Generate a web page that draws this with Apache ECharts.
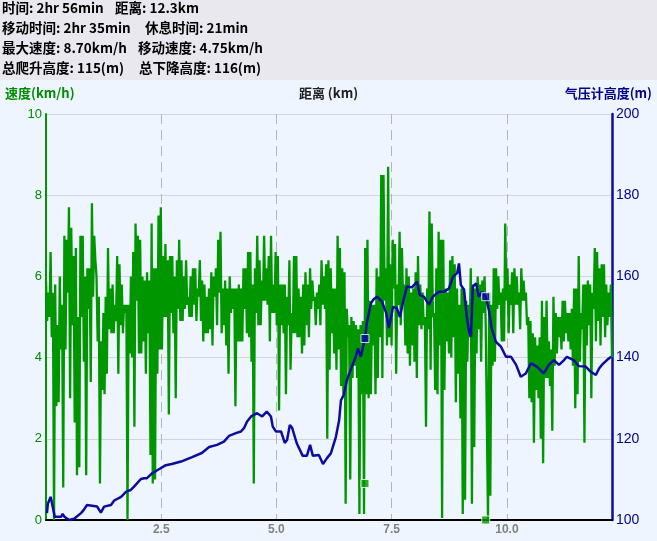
<!DOCTYPE html>
<html>
<head>
<meta charset="utf-8">
<script src="https://cdn.jsdelivr.net/npm/echarts@6/dist/echarts.min.js"></script>
<style>
html,body{margin:0;padding:0;background:#eef5fe;}
#chart{width:657px;height:541px;}
</style>
</head>
<body>
<div id="chart"></div>
<script>
// ---- header summary ----
const headerLeft = ['时间: 2hr 56min', '移动时间: 2hr 35min', '最大速度: 8.70km/h', '总爬升高度: 115(m)'];
const headerRight = ['距离: 12.3km', '休息时间: 21min', '移动速度: 4.75km/h', '总下降高度: 116(m)'];
const leftTitle = '速度(km/h)';
const centerTitle = '距离 (km)';
const rightTitle = '气压计高度(m)';

// ---- distance axis ----
const X_MAX = 12.28;

// ---- speed (km/h), evenly spaced along the track, read in six chunks ----
const speedA = [5.9,4.9, 5.6,5.0, 6.6,4.5, 5.6,0.0, 5.8,2.8, 4.8,2.9, 6.0,4.2, 5.3,0.8, 7.0,4.2, 6.9,5.6,
  7.7,3.0, 7.2,4.8, 6.5,2.4, 6.7,1.1, 5.0,1.3, 7.0,5.0, 7.0,3.9, 6.0,1.1, 6.2,5.2, 6.2,3.4,
  7.8,5.5, 7.0,6.4, 6.0,4.4, 5.5,0.9, 4.4,3.2, 5.1,3.1, 5.5,3.6, 6.7,4.7, 5.7,4.6, 5.8,4.6,
  5.3,4.9, 6.5,3.6, 6.3,4.8, 5.8,4.6, 5.3,5.1, 5.3,0.0, 5.3,4.1, 6.0,4.0, 6.6,2.3, 7.3,5.4,
  7.0,4.1, 6.9,4.1, 6.0,4.4];
const speedB = [5.9,3.6, 6.1,4.6, 5.9,1.6, 7.3,0.9, 6.2,1.0, 6.2,3.6, 7.5,4.2, 7.7,4.2, 6.5,5.0, 6.8,5.0,
  6.4,2.6, 6.5,5.1, 6.5,4.6, 6.0,3.0, 6.4,5.2, 6.9,4.9, 6.4,4.9, 6.0,5.2, 6.4,5.3, 5.5,5.0,
  6.0,5.0, 6.2,5.3, 6.2,4.9, 5.7,5.5, 6.4,4.9, 5.9,4.4, 5.8,4.6, 5.5,4.6, 5.7,4.7, 6.1,4.3,
  6.0,5.5, 6.2,4.8, 6.9,5.6, 7.1,4.6, 5.7,4.8, 5.9,4.3, 5.7,3.6, 6.0,5.1, 5.7,5.2, 5.7,2.8,
  5.7,4.4, 5.8,4.4, 5.7,4.4, 6.2,5.2];
const speedC = [6.2,4.6, 6.6,4.5, 6.6,3.9, 5.8,0.9, 6.2,5.1, 7.0,4.8, 6.4,4.8, 5.9,5.4, 7.0,5.4, 6.2,5.3,
  6.5,4.4, 7.0,5.1, 5.8,5.1, 6.6,4.8, 6.5,2.7, 5.8,4.8, 5.8,4.6, 5.8,3.1, 5.5,4.8, 6.4,3.7,
  5.1,4.6, 6.5,4.6, 6.5,4.5, 5.7,4.5, 5.5,4.1, 5.8,4.3, 6.1,4.8, 5.8,4.5, 6.2,5.2, 5.9,5.4,
  5.5,4.8, 5.6,5.2, 5.8,4.8, 6.4,5.3, 6.0,5.2, 6.3,2.0, 6.4,3.7, 6.2,4.6, 5.7,4.1, 5.7,3.7,
  7.0,4.2, 6.7,3.3, 6.2,3.1, 6.1,0.4];
const speedD = [5.2,4.5, 4.8,1.0, 5.0,3.5, 4.9,3.8, 4.8,3.5, 4.7,0.15, 4.8,3.1, 4.9,0.15, 6.7,3.1, 6.9,3.0,
  5.4,3.1, 5.3,4.3, 5.3,3.1, 6.2,3.5, 6.0,4.5, 8.5,3.5, 8.5,5.4, 6.2,4.3, 8.7,4.5, 6.3,4.3,
  6.9,5.7, 6.8,3.6, 5.8,5.3, 7.1,4.8, 6.7,5.4, 5.8,4.3, 6.2,4.1, 6.0,3.8, 5.6,4.3, 5.7,3.9,
  6.1,3.5, 6.5,4.8, 5.8,4.7, 5.6,4.8, 5.0,2.3, 5.7,4.7, 7.6,3.7, 7.3,5.0, 5.1,3.2, 6.2,3.1,
  7.1,4.3, 6.9,0.05, 6.9,3.2];
const speedE = [5.7,4.4, 5.6,4.1, 6.4,4.0, 6.5,4.5, 6.3,2.9, 5.7,3.6, 5.3,2.5, 5.7,0.15, 5.7,0.5, 5.4,3.9,
  5.3,4.5, 6.2,0.4, 5.8,1.8, 5.7,4.1, 6.0,4.7, 5.8,3.9, 5.9,5.1, 6.0,4.8, 4.8,0.0, 5.6,0.6,
  5.3,3.8, 6.2,3.9, 6.2,5.2, 6.0,5.3, 5.6,4.4, 5.7,4.4, 7.3,5.4, 6.2,4.6, 5.8,5.3, 6.1,4.6,
  6.2,5.3, 6.0,5.3, 5.6,4.7, 6.2,5.4, 5.9,5.4, 5.6,4.8, 5.0,3.0, 4.9,2.9, 4.6,1.9, 4.5,3.2,
  4.3,3.0, 4.5,2.0, 5.4,1.4, 5.0,3.5];
const speedF = [5.4,3.5, 4.4,3.3, 4.2,2.2, 5.5,3.8, 5.1,4.1, 5.0,4.5, 5.0,4.2, 5.4,4.4, 5.4,4.6, 5.1,4.4,
  5.1,4.2, 5.2,3.8, 5.7,2.75, 5.7,3.1, 6.5,3.9, 5.1,4.7, 5.8,1.9, 5.8,4.3, 5.9,4.8, 5.8,3.0,
  5.6,5.2, 6.7,4.4, 6.6,4.9, 6.2,4.3, 6.3,5.0, 6.3,4.5, 5.8,4.8, 5.6,5.0, 5.8,4.0];
const speed = [].concat(speedA, speedB, speedC, speedD, speedE, speedF);

// ---- barometric elevation (m) at distance (km) ----
const elevDist = [0.02,0.04,0.10,0.15,0.19,0.33,0.36,0.40,0.50,0.61,0.76,0.82,0.89,1.11,1.19,1.26,1.41,1.48,1.63,1.74,
  1.84,1.91,2.06,2.13,2.19,2.30,2.45,2.60,2.73,2.93,3.17,3.38,3.54,3.71,3.86,3.97,4.12,4.23,4.30,4.36,
  4.45,4.58,4.69,4.79,4.88,4.92,4.99,5.10,5.18,5.23,5.29,5.34,5.44,5.57,5.66,5.73,5.79,5.92,6.01,6.10,
  6.18,6.29,6.36,6.40,6.46,6.53,6.62,6.72,6.77,6.83,6.92,6.96,7.05,7.11,7.18,7.29,7.38,7.44,7.48,7.53,
  7.61,7.68,7.74,7.83,7.94,8.05,8.11,8.20,8.31,8.39,8.52,8.63,8.74,8.83,8.92,8.96,9.00,9.07,9.13,9.18,
  9.22,9.26,9.33,9.39,9.46,9.54,9.61,9.67,9.76,9.87,9.98,10.09,10.20,10.30,10.41,10.52,10.65,10.80,10.91,11.02,
  11.13,11.24,11.30,11.45,11.56,11.71,11.82,11.93,12.00,12.06,12.17,12.26];
const elevM = [101.7,104,105.7,103,100.8,100.8,101.5,100.8,100,100.3,101.7,102.5,103.7,103.3,101.8,103.3,103.7,104.8,105.7,107,
  107.4,108.2,110.1,110.3,110.3,111.5,112.5,113.5,113.8,114.4,115.5,116.5,118,118.5,119.3,120.7,121.4,121.8,122.7,124.2,
  125.5,126.3,125.5,126.7,125.5,123,121.8,121.8,119,119.7,123.4,122.7,118.9,115.8,115.8,118.5,115.8,116,113.8,115.3,
  116.4,120.5,124.6,129.5,130.8,134.5,137.3,140.2,142.3,140.2,144.7,148.5,153.4,154.4,155,153.8,151,147.3,146.9,152.5,
  152.2,150,153.4,157.5,157.3,158.7,155.4,155,153,155,156.2,156.2,157,159.9,160.8,163.2,157.9,156.7,150,146.4,
  145.1,157.5,158.3,155,156.2,155,151.7,147.2,143.9,142.7,140.2,140.2,138.2,135.3,136.1,138.6,137.8,136.1,138.2,139.4,
  138.2,139.4,140.2,139.4,137.9,137.8,136.5,135.7,137.3,138.2,139.4,140.2];

// ---- lap markers ----
const markDist = [6.92, 9.54];
const markSpeed = [0.9, 0];
const markElev = [144.7, 155];

const GREEN = '#009600';
const GREEN_TXT = '#008c00';
const BLUE = '#0c0ca0';
const BLUE_TXT = '#00008c';
const HEAD_FONT = 'bold 13.5px "Noto Sans CJK SC", sans-serif';
const TITLE_FONT = 'bold 13px "Noto Sans CJK SC", sans-serif';
const rightColX = [115, 145, 138, 139];

const chart = echarts.init(document.getElementById('chart'), null, {renderer: 'canvas'});

const graphics = [
  {type: 'rect', left: 0, top: 0, shape: {width: 657, height: 80}, style: {fill: '#e8e8ee'}, z: -10}
];
headerLeft.forEach((t, i) => {
  graphics.push({type: 'text', left: 2, top: 1 + 20 * i, style: {text: t, fill: '#000', font: HEAD_FONT}});
  graphics.push({type: 'text', left: rightColX[i], top: 1 + 20 * i, style: {text: headerRight[i], fill: '#000', font: HEAD_FONT}});
});
graphics.push({type: 'text', left: 5, top: 87, style: {text: leftTitle, fill: GREEN_TXT, font: TITLE_FONT}});
graphics.push({type: 'text', left: 'center', top: 87, style: {text: centerTitle, fill: '#202020', font: TITLE_FONT}});
graphics.push({type: 'text', right: 5, top: 87, style: {text: rightTitle, fill: BLUE_TXT, font: TITLE_FONT}});

const option = {
  backgroundColor: '#eef5fe',
  animation: false,
  graphic: graphics,
  grid: {left: 46, right: 45, top: 114, bottom: 21, containLabel: false},
  xAxis: [
    {
      type: 'value', min: 0, max: X_MAX, interval: 2.5,
      axisLine: {show: true, onZero: false, lineStyle: {color: '#000', width: 2}},
      axisTick: {show: false},
      axisLabel: {color: '#808080', fontSize: 12, fontWeight: 'bold', fontFamily: 'Liberation Sans', margin: 4,
        showMinLabel: false, showMaxLabel: false, formatter: v => v.toFixed(1)},
      splitLine: {show: true, lineStyle: {color: '#b4b4bc', width: 1, type: [10, 6]}}
    },
    {
      type: 'category', show: false, boundaryGap: false,
      data: speed.map((_, i) => i)
    }
  ],
  yAxis: [
    {
      type: 'value', min: 0, max: 10, interval: 2, position: 'left',
      axisLine: {show: true, lineStyle: {color: GREEN, width: 2}},
      axisTick: {show: false},
      axisLabel: {color: GREEN_TXT, fontSize: 13, fontFamily: 'Liberation Sans', margin: 4},
      splitLine: {show: true, lineStyle: {color: '#d4d4dc', width: 1}}
    },
    {
      type: 'value', min: 100, max: 200, interval: 20, position: 'right',
      axisLine: {show: true, lineStyle: {color: BLUE, width: 2.5}},
      axisTick: {show: false},
      axisLabel: {color: BLUE_TXT, fontSize: 14, fontFamily: 'Liberation Sans', margin: 4},
      splitLine: {show: false}
    }
  ],
  series: [
    {
      name: 'speed', type: 'line', xAxisIndex: 1, yAxisIndex: 0,
      data: speed, showSymbol: false, symbol: 'none',
      lineStyle: {color: GREEN, width: 2.3}, z: 2
    },
    {
      name: 'elev', type: 'line', xAxisIndex: 0, yAxisIndex: 1,
      data: elevDist.map((d, i) => [d, elevM[i]]), showSymbol: false, symbol: 'none',
      lineStyle: {color: BLUE, width: 2.5}, z: 3
    },
    {
      name: 'speedMarks', type: 'scatter', xAxisIndex: 0, yAxisIndex: 0,
      data: markDist.map((d, i) => [d, markSpeed[i]]), symbol: 'rect', symbolSize: 8,
      itemStyle: {color: GREEN, borderColor: '#fff', borderWidth: 1}, z: 5
    },
    {
      name: 'elevMarks', type: 'scatter', xAxisIndex: 0, yAxisIndex: 1,
      data: markDist.map((d, i) => [d, markElev[i]]), symbol: 'rect', symbolSize: 8,
      itemStyle: {color: BLUE, borderColor: '#fff', borderWidth: 1}, z: 5
    }
  ]
};
chart.setOption(option);
</script>
</body>
</html>
